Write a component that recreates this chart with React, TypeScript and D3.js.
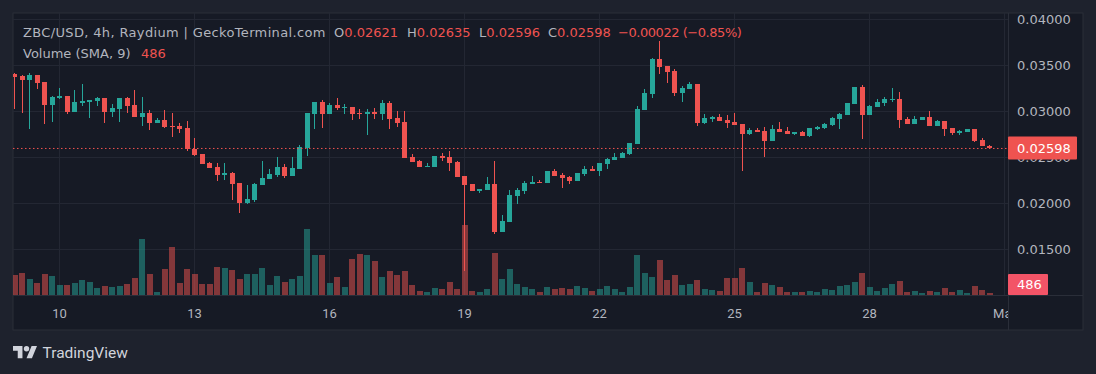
import React from 'react';
import * as d3 from 'd3';

// ZBC/USD 4h candles (bar 0 = first visible bar)
const opens = [0.03413, 0.03391, 0.03348, 0.03398, 0.03322, 0.03075, 0.03152, 0.03170, 0.02999, 0.03093,
  0.03108, 0.03119, 0.03148, 0.02999, 0.03032, 0.03148, 0.03072, 0.02945, 0.02985, 0.02879,
  0.02908, 0.02843, 0.02843, 0.02821, 0.02596, 0.02538, 0.02440, 0.02397, 0.02313, 0.02331,
  0.02222, 0.02008, 0.02041, 0.02200, 0.02266, 0.02309, 0.02397, 0.02299, 0.02375, 0.02603,
  0.02974, 0.03104, 0.02974, 0.03072, 0.03039, 0.03050, 0.02985, 0.02977, 0.02995, 0.02974,
  0.03093, 0.02930, 0.02887, 0.02505, 0.02462, 0.02397, 0.02397, 0.02516, 0.02505, 0.02451,
  0.02299, 0.02211, 0.02135, 0.02146, 0.02211, 0.01689, 0.01798, 0.02081, 0.02135, 0.02211,
  0.02233, 0.02222, 0.02353, 0.02309, 0.02288, 0.02244, 0.02320, 0.02375, 0.02353, 0.02429,
  0.02473, 0.02495, 0.02538, 0.02647, 0.03017, 0.03191, 0.03573, 0.03496, 0.03442, 0.03202,
  0.03250, 0.03300, 0.02876, 0.02919, 0.02941, 0.02908, 0.02887, 0.02865, 0.02756, 0.02799,
  0.02789, 0.02680, 0.02810, 0.02789, 0.02756, 0.02778, 0.02734, 0.02810, 0.02821, 0.02854,
  0.02919, 0.02963, 0.03083, 0.03268, 0.02963, 0.03050, 0.03093, 0.03126, 0.03137, 0.02919,
  0.02865, 0.02908, 0.02941, 0.02843, 0.02897, 0.02821, 0.02767, 0.02778, 0.02810, 0.02690,
  0.02621];
const highs = [0.03420, 0.03402, 0.03420, 0.03398, 0.03322, 0.03170, 0.03257, 0.03170, 0.03235, 0.03300,
  0.03126, 0.03159, 0.03148, 0.03083, 0.03148, 0.03159, 0.03235, 0.03159, 0.03017, 0.02930,
  0.03017, 0.02985, 0.02876, 0.02897, 0.02712, 0.02538, 0.02451, 0.02440, 0.02440, 0.02342,
  0.02222, 0.02200, 0.02222, 0.02462, 0.02375, 0.02505, 0.02429, 0.02505, 0.02636, 0.02985,
  0.03104, 0.03126, 0.03093, 0.03148, 0.03083, 0.03050, 0.03028, 0.03028, 0.03039, 0.03126,
  0.03115, 0.03006, 0.03006, 0.02538, 0.02473, 0.02440, 0.02516, 0.02549, 0.02571, 0.02462,
  0.02299, 0.02211, 0.02157, 0.02288, 0.02462, 0.01874, 0.02146, 0.02168, 0.02244, 0.02299,
  0.02255, 0.02353, 0.02375, 0.02331, 0.02299, 0.02331, 0.02407, 0.02407, 0.02440, 0.02495,
  0.02549, 0.02560, 0.02658, 0.03061, 0.03246, 0.03584, 0.03769, 0.03496, 0.03464, 0.03279,
  0.03322, 0.03300, 0.02974, 0.02952, 0.02974, 0.02963, 0.02985, 0.02865, 0.02821, 0.02821,
  0.02832, 0.02854, 0.02887, 0.02832, 0.02778, 0.02789, 0.02821, 0.02843, 0.02876, 0.02941,
  0.02985, 0.03093, 0.03268, 0.03289, 0.03072, 0.03137, 0.03159, 0.03257, 0.03213, 0.02941,
  0.02952, 0.02941, 0.03006, 0.02908, 0.02897, 0.02821, 0.02799, 0.02810, 0.02810, 0.02712,
  0.02635];
const lows = [0.03028, 0.02988, 0.02814, 0.03250, 0.02868, 0.02890, 0.03141, 0.02977, 0.02999, 0.03064,
  0.02934, 0.03064, 0.02879, 0.02945, 0.02890, 0.02988, 0.02945, 0.02847, 0.02803, 0.02879,
  0.02825, 0.02727, 0.02770, 0.02567, 0.02520, 0.02433, 0.02389, 0.02248, 0.02259, 0.02041,
  0.01899, 0.01997, 0.02019, 0.02200, 0.02266, 0.02288, 0.02277, 0.02299, 0.02375, 0.02516,
  0.02810, 0.02821, 0.02974, 0.03017, 0.02974, 0.02908, 0.02919, 0.02745, 0.02919, 0.02908,
  0.02810, 0.02832, 0.02495, 0.02451, 0.02397, 0.02397, 0.02397, 0.02462, 0.02353, 0.02288,
  0.01264, 0.02135, 0.02113, 0.02146, 0.01667, 0.01689, 0.01798, 0.01994, 0.02102, 0.02211,
  0.02222, 0.02222, 0.02299, 0.02168, 0.02211, 0.02244, 0.02299, 0.02353, 0.02299, 0.02375,
  0.02473, 0.02495, 0.02527, 0.02647, 0.03017, 0.03148, 0.03409, 0.03311, 0.03170, 0.03104,
  0.03250, 0.02843, 0.02865, 0.02887, 0.02897, 0.02821, 0.02854, 0.02353, 0.02745, 0.02778,
  0.02505, 0.02680, 0.02778, 0.02756, 0.02745, 0.02734, 0.02723, 0.02799, 0.02810, 0.02843,
  0.02810, 0.02963, 0.03083, 0.02701, 0.02963, 0.03050, 0.03061, 0.03104, 0.02821, 0.02865,
  0.02865, 0.02908, 0.02843, 0.02843, 0.02734, 0.02745, 0.02745, 0.02778, 0.02669, 0.02620,
  0.02596];
const closes = [0.03380, 0.03348, 0.03402, 0.03315, 0.03075, 0.03159, 0.03170, 0.02999, 0.03104, 0.03115,
  0.03126, 0.03148, 0.02999, 0.03039, 0.03148, 0.03064, 0.02945, 0.02985, 0.02879, 0.02908,
  0.02836, 0.02836, 0.02814, 0.02589, 0.02527, 0.02433, 0.02389, 0.02313, 0.02331, 0.02215,
  0.02008, 0.02048, 0.02211, 0.02277, 0.02320, 0.02397, 0.02299, 0.02386, 0.02614, 0.02985,
  0.03104, 0.02974, 0.03072, 0.03039, 0.03050, 0.02974, 0.02977, 0.02995, 0.02974, 0.03093,
  0.02919, 0.02876, 0.02495, 0.02451, 0.02397, 0.02407, 0.02516, 0.02495, 0.02440, 0.02288,
  0.02200, 0.02135, 0.02157, 0.02211, 0.01689, 0.01808, 0.02092, 0.02146, 0.02222, 0.02233,
  0.02222, 0.02353, 0.02299, 0.02277, 0.02244, 0.02331, 0.02375, 0.02353, 0.02440, 0.02484,
  0.02505, 0.02549, 0.02658, 0.03028, 0.03202, 0.03573, 0.03486, 0.03431, 0.03202, 0.03257,
  0.03300, 0.02876, 0.02930, 0.02941, 0.02897, 0.02876, 0.02854, 0.02756, 0.02799, 0.02778,
  0.02680, 0.02810, 0.02778, 0.02756, 0.02778, 0.02734, 0.02821, 0.02832, 0.02865, 0.02930,
  0.02974, 0.03093, 0.03268, 0.02963, 0.03061, 0.03104, 0.03137, 0.03137, 0.02908, 0.02865,
  0.02919, 0.02941, 0.02843, 0.02897, 0.02810, 0.02767, 0.02792, 0.02810, 0.02680, 0.02620,
  0.02598];
const volumes = [4270, 4690, 3430, 2590, 4480, 4060, 2170, 2170, 2590, 3220,
  2800, 1540, 1960, 1750, 1960, 2380, 3640, 11830, 4480, 700,
  5530, 10150, 2590, 5530, 4480, 2380, 2380, 5950, 5740, 5320,
  3430, 4480, 4480, 5740, 2170, 4060, 2800, 3430, 4060, 13930,
  8470, 8470, 2590, 3850, 1750, 7630, 8680, 8470, 7210, 3850,
  5110, 4270, 5110, 2170, 910, 700, 1540, 1330, 2800, 1330,
  14770, 910, 700, 1330, 8890, 3430, 5530, 2380, 1750, 1330,
  700, 1750, 1330, 1540, 1330, 1960, 1540, 910, 1330, 1960,
  1330, 700, 1750, 8470, 4690, 3850, 7420, 3220, 4270, 2170,
  2380, 3220, 1330, 1120, 910, 3640, 3640, 5740, 2800, 700,
  2590, 2170, 1750, 700, 700, 700, 910, 700, 1330, 1120,
  1960, 2170, 2800, 4690, 1750, 910, 1540, 2380, 3010, 700,
  910, 490, 910, 700, 1540, 700, 1120, 490, 1960, 1120,
  486];

const priceTicks = [0.015, 0.02, 0.025, 0.03, 0.035, 0.04];
const dayLabels = ['10', '13', '16', '19', '22', '25', '28', 'Mar'];
const dayBars = [6, 24, 42, 60, 78, 96, 114, 132];

const legendTitle = 'ZBC/USD, 4h, Raydium | GeckoTerminal.com';
const legendChange = '\u22120.00022 (\u22120.85%)';
const volumeTitle = 'Volume (SMA, 9)';

const UP = '#26a69a';
const DOWN = '#ef5350';
const uiFont = '"DejaVu Sans", Roboto, sans-serif';
const timeFont = 'Roboto, "Noto Sans", sans-serif';

export default function App() {
  const left = 13, top = 13, right = 1083, bottom = 330;
  const plotRight = 1008, plotBottom = 295;

  const x = d3.scaleLinear().domain([0, 130]).range([14.5, 989.5]);
  const y = d3.scaleLinear().domain([0.015, 0.04]).range([249.3, 19.7]);
  const yVol = d3.scaleLinear().domain([0, 15000]).range([plotBottom, plotBottom - 71.4]);
  const fmt = d3.format('.5f');

  const last = closes.length - 1;
  const lastUp = closes[last] >= opens[last];
  const lastY = y(closes[last]);

  return (
    <svg width={1096} height={374} style={{ position: 'absolute', left: 0, top: 0 }}
      fontFamily={uiFont}>
      <defs>
        <clipPath id="plot">
          <rect x={left} y={top} width={plotRight - left} height={plotBottom - top} />
        </clipPath>
        <clipPath id="timeAxis">
          <rect x={left} y={plotBottom} width={plotRight - left} height={bottom - plotBottom} />
        </clipPath>
      </defs>
      <rect width={1096} height={374} fill="#1e222d" />
      <rect x={left} y={top} width={right - left} height={bottom - top} fill="#161a25" stroke="#2a2e39" />

      {/* grid */}
      <g stroke="#232733" strokeWidth={1} shapeRendering="crispEdges">
        {priceTicks.map(p => (
          <line key={p} x1={left} x2={plotRight} y1={y(p)} y2={y(p)} />
        ))}
        {dayBars.map(b => (
          <line key={b} x1={x(b)} x2={x(b)} y1={top} y2={plotBottom} clipPath="url(#plot)" />
        ))}
      </g>

      <g clipPath="url(#plot)">
        {/* volume */}
        <g shapeRendering="crispEdges">
          {volumes.map((v, i) => (
            <rect key={i} x={x(i) - 3} width={6} y={yVol(v)} height={plotBottom - yVol(v)}
              fill={closes[i] >= opens[i] ? UP : DOWN} fillOpacity={0.5} />
          ))}
        </g>
        {/* candles */}
        {opens.map((o, i) => {
          const c = closes[i];
          const col = c >= o ? UP : DOWN;
          const yt = y(Math.max(o, c));
          const yb = y(Math.min(o, c));
          return (
            <g key={i} fill={col} stroke={col} shapeRendering="crispEdges">
              <line x1={x(i)} x2={x(i)} y1={y(highs[i])} y2={y(lows[i])} strokeWidth={1} />
              <rect x={x(i) - 2.5} width={5} y={yt} height={Math.max(1, yb - yt)} stroke="none" />
            </g>
          );
        })}
        {/* last price line */}
        <line x1={left} x2={plotRight} y1={lastY} y2={lastY} stroke={lastUp ? UP : DOWN}
          strokeDasharray="1.5 2.5" strokeWidth={1} />
      </g>

      {/* separators */}
      <g stroke="#2a2e39" shapeRendering="crispEdges">
        <line x1={plotRight} x2={plotRight} y1={top} y2={bottom} />
        <line x1={left} x2={right} y1={plotBottom} y2={plotBottom} />
      </g>

      {/* legend */}
      <g fontSize={13} fill="#b2b5be">
        <text x={23} y={37} letterSpacing={0.35}>{legendTitle}</text>
        <text x={334} y={37}>O<tspan fill={DOWN}>{fmt(opens[last])}</tspan></text>
        <text x={407} y={37}>H<tspan fill={DOWN}>{fmt(highs[last])}</tspan></text>
        <text x={479} y={37}>L<tspan fill={DOWN}>{fmt(lows[last])}</tspan></text>
        <text x={548} y={37}>C<tspan fill={DOWN}>{fmt(closes[last])}</tspan></text>
        <text x={618} y={37} fill={DOWN} letterSpacing={-0.45}>{legendChange}</text>
        <text x={23} y={58}>{volumeTitle}</text>
        <text x={141} y={58} fill={DOWN}>{volumes[last]}</text>
      </g>

      {/* price axis */}
      <g fontSize={13} fill="#b2b5be">
        {priceTicks.map(p => (
          <text key={p} x={1017} y={y(p)} dy="0.36em">{fmt(p)}</text>
        ))}
      </g>
      <rect x={plotRight} y={lastY - 12} width={69} height={23} fill={DOWN} rx={1} />
      <text x={1017} y={lastY} dy="0.36em" fontSize={13} fill="#ffffff">{fmt(closes[last])}</text>
      <rect x={plotRight} y={plotBottom - 21} width={40} height={21} fill="#f35467" rx={1} />
      <text x={1017} y={plotBottom - 10.5} dy="0.36em" fontSize={13} fill="#ffffff">{volumes[last]}</text>

      {/* time axis */}
      <g fontSize={13} fill="#b2b5be" textAnchor="middle" clipPath="url(#timeAxis)" fontFamily={timeFont}>
        {dayBars.map((b, k) => (
          <text key={b} x={x(b)} y={318}>{dayLabels[k]}</text>
        ))}
      </g>

      {/* watermark */}
      <g fill="#d1d4dc" fontFamily={timeFont}>
        <g transform="translate(13,343.4) scale(0.676)">
          <path d="M14 22H7V11H0V4h14v18zM28 22h-8l7.5-18h8L28 22z" />
          <circle cx={20} cy={8} r={4} />
        </g>
        <text x={42.5} y={358} fontSize={15.5}>TradingView</text>
      </g>
    </svg>
  );
}
